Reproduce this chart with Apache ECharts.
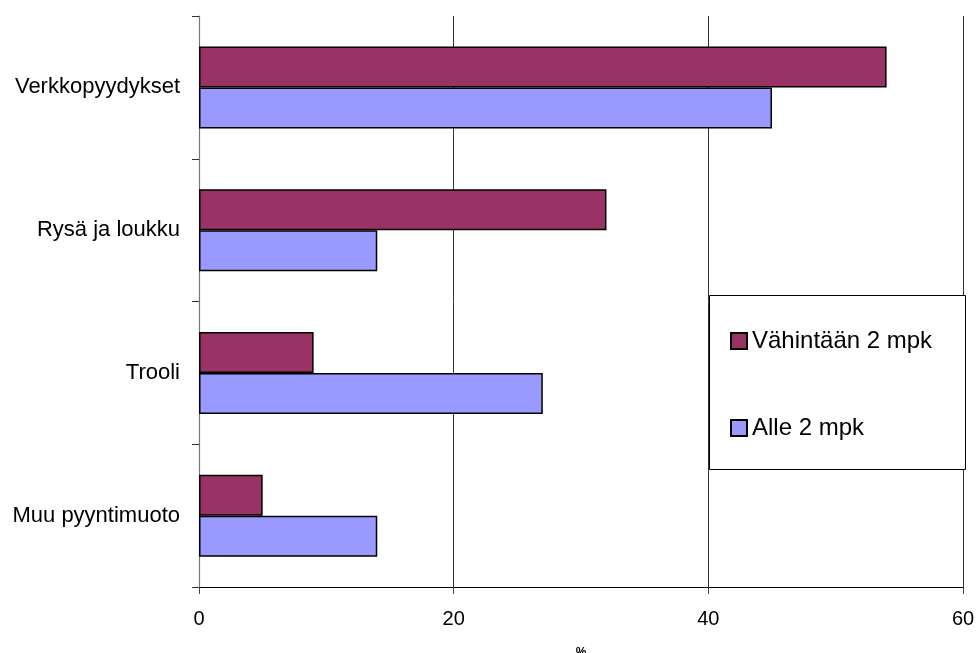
<!DOCTYPE html>
<html><head><meta charset="utf-8">
<script src="https://cdn.jsdelivr.net/npm/echarts@6/dist/echarts.min.js"></script>
<style>html,body{margin:0;padding:0;background:#fff}#c{width:978px;height:653px}</style>
</head><body><div id="c"></div>
<script>
const categories = ['Verkkopyydykset', 'Rysä ja loukku', 'Trooli', 'Muu pyyntimuoto'];
const seriesNames = ['Vähintään 2 mpk', 'Alle 2 mpk'];
const valuesVahintaan = [54, 32, 9, 5];
const valuesAlle = [45, 14, 27, 14];
const xTicks = { min: 0, max: 60, interval: 20 };

const chart = echarts.init(document.getElementById('c'));
const font = 'Liberation Sans, Arial, sans-serif';
chart.setOption({
  animation: false,
  backgroundColor: '#fff',
  grid: { left: 199, right: 15, top: 16, bottom: 66, containLabel: false, outerBoundsMode: 'none' },
  xAxis: {
    type: 'value', min: xTicks.min, max: xTicks.max, interval: xTicks.interval,
    name: '%', nameLocation: 'middle', nameGap: 60,
    nameTextStyle: { fontFamily: font, fontSize: 12, fontWeight: 'bold', color: '#000' },
    axisLine: { show: true, lineStyle: { color: '#000', width: 1.2 } },
    axisTick: { show: true, length: 7, lineStyle: { color: '#444' } },
    axisLabel: { margin: 22, fontFamily: font, fontSize: 20, color: '#000' },
    splitLine: { show: true, lineStyle: { color: '#333', width: 1 } }
  },
  yAxis: {
    type: 'category', data: categories, inverse: true,
    axisLine: { show: true, lineStyle: { color: '#777', width: 1.2 } },
    axisTick: { show: true, length: 7, alignWithLabel: false, lineStyle: { color: '#333' } },
    axisLabel: { margin: 19, fontFamily: font, fontSize: 22, color: '#000' },
    splitLine: { show: false }
  },
  legend: {
    orient: 'vertical', left: 730, top: 329, itemWidth: 16, itemHeight: 16, itemGap: 63,
    z: 10, padding: 0, icon: 'rect',
    textStyle: { fontFamily: font, fontSize: 24, color: '#000' },
    data: seriesNames
  },
  graphic: [{
    type: 'rect', left: 709, top: 295, z: 8,
    shape: { width: 256, height: 174 },
    style: { fill: '#fff', stroke: '#000', lineWidth: 1 }
  }],
  series: [
    { name: seriesNames[0], type: 'bar', data: valuesVahintaan, barWidth: 41, barGap: '0%',
      itemStyle: { color: '#993366', borderColor: '#000', borderWidth: 1.5 } },
    { name: seriesNames[1], type: 'bar', data: valuesAlle, barWidth: 41, barGap: '0%',
      itemStyle: { color: '#9999FF', borderColor: '#000', borderWidth: 1.5 } }
  ]
});
</script></body></html>
